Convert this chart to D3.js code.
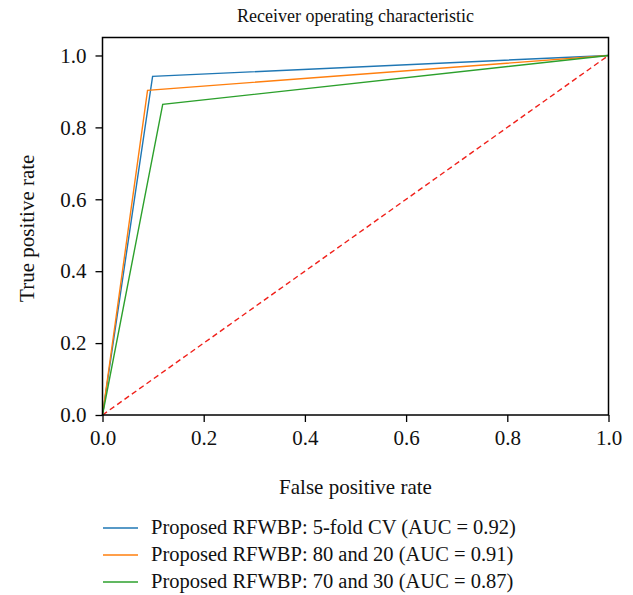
<!DOCTYPE html>
<html>
<head>
<meta charset="utf-8">
<script src="https://cdn.jsdelivr.net/npm/d3@7"></script>
<style>
body { margin: 0; background: #fff; }
text { font-family: "Liberation Serif", "DejaVu Serif", serif; fill: #111; }
</style>
</head>
<body>
<svg id="chart" width="633" height="595"></svg>
<script>
// roc points
var fprCV = [0, 0.099, 1];
var tprCV = [0, 0.942, 1];
var fpr8020 = [0, 0.089, 1];
var tpr8020 = [0, 0.903, 1];
var fpr7030 = [0, 0.119, 1];
var tpr7030 = [0, 0.864, 1];
var seriesNames = ["Proposed RFWBP: 5-fold CV (AUC = 0.92)",
                   "Proposed RFWBP: 80 and 20 (AUC = 0.91)",
                   "Proposed RFWBP: 70 and 30 (AUC = 0.87)"];
var seriesColors = ["#1f77b4", "#ff7f0e", "#2ca02c"];
var tickValues = [0, 0.2, 0.4, 0.6, 0.8, 1.0];

var svg = d3.select("#chart");
var pLeft = 102.5, pRight = 608.5, pTop = 37.5, pBottom = 415;

var xScale = d3.scaleLinear().domain([0, 1]).range([pLeft, pRight]);
var yScale = d3.scaleLinear().domain([0, 1.05]).range([pBottom, pTop]);

var series = [
    {x: fprCV, y: tprCV},
    {x: fpr8020, y: tpr8020},
    {x: fpr7030, y: tpr7030}
];

var line = d3.line()
    .x(function(d){ return xScale(d[0]); })
    .y(function(d){ return yScale(d[1]); });

// chance diagonal
svg.append("path")
    .attr("d", line([[0, 0], [1, 1]]))
    .attr("fill", "none")
    .attr("stroke", "#f0201a")
    .attr("stroke-width", 1.4)
    .attr("stroke-dasharray", "5.5,3.5");

series.forEach(function(s, i){
    var pts = s.x.map(function(v, j){ return [v, s.y[j]]; });
    svg.append("path")
        .attr("d", line(pts))
        .attr("fill", "none")
        .attr("stroke", seriesColors[i])
        .attr("stroke-width", 1.4);
});

// axes
var fmt = d3.format(".1f");
var xAxis = svg.append("g")
    .attr("transform", "translate(0," + pBottom + ")")
    .call(d3.axisBottom(xScale).tickValues(tickValues).tickFormat(fmt).tickSize(7).tickPadding(8));
var yAxis = svg.append("g")
    .attr("transform", "translate(" + pLeft + ",0)")
    .call(d3.axisLeft(yScale).tickValues(tickValues).tickFormat(fmt).tickSize(7).tickPadding(9));

[xAxis, yAxis].forEach(function(a){
    a.select(".domain").remove();
    a.selectAll(".tick line").attr("stroke", "#000").attr("stroke-width", 1.3);
    a.selectAll(".tick text").style("font-size", "21px").attr("fill", "#111")
        .style("font-family", "'Liberation Serif', serif");
});

// frame
svg.append("rect")
    .attr("x", pLeft).attr("y", pTop)
    .attr("width", pRight - pLeft).attr("height", pBottom - pTop)
    .attr("fill", "none").attr("stroke", "#000").attr("stroke-width", 1.5);

svg.append("text")
    .attr("x", (pLeft + pRight) / 2).attr("y", 22)
    .attr("text-anchor", "middle").style("font-size", "18px")
    .text("Receiver operating characteristic");

svg.append("text")
    .attr("x", (pLeft + pRight) / 2).attr("y", 494)
    .attr("text-anchor", "middle").style("font-size", "21px")
    .text("False positive rate");

svg.append("text")
    .attr("transform", "translate(34," + ((pTop + pBottom) / 2 + 2) + ") rotate(-90)")
    .attr("text-anchor", "middle").style("font-size", "21px")
    .text("True positive rate");

// legend
var legend = svg.append("g");
seriesNames.forEach(function(name, i){
    var y = 528 + i * 27;
    legend.append("line")
        .attr("x1", 103).attr("x2", 138)
        .attr("y1", y).attr("y2", y)
        .attr("stroke", seriesColors[i]).attr("stroke-width", 1.4);
    legend.append("text")
        .attr("x", 151).attr("y", y + 6)
        .style("font-size", "20.5px")
        .text(name);
});
</script>
</body>
</html>
